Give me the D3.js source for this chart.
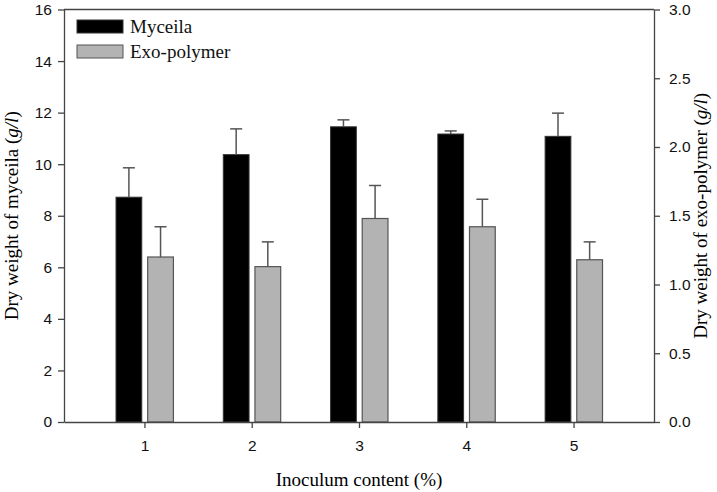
<!DOCTYPE html>
<html>
<head>
<meta charset="utf-8">
<script src="https://cdn.jsdelivr.net/npm/d3@7"></script>
<style>
  body { margin: 0; background: #fff; }
  svg { display: block; }
</style>
</head>
<body>
<div id="graph"></div>
<script>
/* data */
const categories = [1, 2, 3, 4, 5];
const myceila = [8.72, 10.37, 11.45, 11.17, 11.08];
const myceilaErr = [1.14, 1.00, 0.27, 0.12, 0.90];
const exoPolymer = [1.20, 1.13, 1.48, 1.42, 1.18];
const exoPolymerErr = [0.22, 0.18, 0.24, 0.20, 0.13];
const leftTicks = [0, 2, 4, 6, 8, 10, 12, 14, 16];
const rightTicks = [0, 0.5, 1.0, 1.5, 2.0, 2.5, 3.0];

window.addEventListener("DOMContentLoaded", main)

function main() {
    const W = 717, H = 492;
    const L = 64, R = 654, T = 9.5, B = 422;
    const axisCol = "#444";
    const sans = "'Liberation Sans', Arial, sans-serif";
    const serif = "'Liberation Serif', 'Times New Roman', serif";

    const svg = d3.select("#graph").append("svg").attr("width", W).attr("height", H)

    const x = d3.scaleLinear().domain([0.25, 5.75]).range([L, R]);
    const yL = d3.scaleLinear().domain([0, 16]).range([B, T]);
    const yR = d3.scaleLinear().domain([0, 3]).range([B, T]);
    const bw = 0.24;

    // top frame line
    svg.append("line").attr("x1", L).attr("x2", R).attr("y1", T).attr("y2", T)
        .attr("stroke", axisCol).attr("stroke-width", 1.3);

    // bars: myceila (left axis)
    const ebCol = "#555";
    const g1 = svg.append("g");
    g1.selectAll("rect").data(myceila).enter().append("rect")
        .attr("x", (d, i) => x(categories[i] - 0.145 - bw / 2))
        .attr("width", x(bw) - x(0))
        .attr("y", d => yL(d))
        .attr("height", d => yL(0) - yL(d))
        .attr("fill", "#000").attr("stroke", "#333").attr("stroke-width", 1);
    // error bars
    myceila.forEach((d, i) => {
        const cx = x(categories[i] - 0.145);
        svg.append("line").attr("x1", cx).attr("x2", cx)
            .attr("y1", yL(d)).attr("y2", yL(d + myceilaErr[i]))
            .attr("stroke", ebCol).attr("stroke-width", 1.5);
        svg.append("line").attr("x1", cx - 6).attr("x2", cx + 6)
            .attr("y1", yL(d + myceilaErr[i])).attr("y2", yL(d + myceilaErr[i]))
            .attr("stroke", ebCol).attr("stroke-width", 1.5);
    });

    // bars: exo-polymer (right axis)
    const g2 = svg.append("g");
    g2.selectAll("rect").data(exoPolymer).enter().append("rect")
        .attr("x", (d, i) => x(categories[i] + 0.15 - bw / 2))
        .attr("width", x(bw) - x(0))
        .attr("y", d => yR(d))
        .attr("height", d => yR(0) - yR(d))
        .attr("fill", "#b3b3b3").attr("stroke", "#555").attr("stroke-width", 1.2);
    exoPolymer.forEach((d, i) => {
        const cx = x(categories[i] + 0.15);
        svg.append("line").attr("x1", cx).attr("x2", cx)
            .attr("y1", yR(d)).attr("y2", yR(d + exoPolymerErr[i]))
            .attr("stroke", ebCol).attr("stroke-width", 1.5);
        svg.append("line").attr("x1", cx - 6).attr("x2", cx + 6)
            .attr("y1", yR(d + exoPolymerErr[i])).attr("y2", yR(d + exoPolymerErr[i]))
            .attr("stroke", ebCol).attr("stroke-width", 1.5);
    });

    /* axes */
    const xAxis = svg.append("g").attr("transform", "translate(0," + B + ")")
        .call(d3.axisBottom(x).tickValues(categories).tickFormat(d3.format("d")).tickSize(6).tickSizeOuter(0).tickPadding(12));
    const yAxisL = svg.append("g").attr("transform", "translate(" + L + ",0)")
        .call(d3.axisLeft(yL).tickValues(leftTicks).tickFormat(d3.format("d")).tickSize(6).tickSizeOuter(0).tickPadding(6));
    const yAxisR = svg.append("g").attr("transform", "translate(" + R + ",0)")
        .call(d3.axisRight(yR).tickValues(rightTicks).tickFormat(d3.format(".1f")).tickSize(6).tickSizeOuter(0).tickPadding(9));

    [xAxis, yAxisL, yAxisR].forEach(a => {
        a.selectAll("path, line").attr("stroke", axisCol).attr("stroke-width", 1.3);
        a.selectAll("text").attr("font-family", sans).attr("font-size", 15.5).attr("fill", "#111");
    });

    /* axis titles */
    svg.append("text").attr("x", (L + R) / 2).attr("y", 486)
        .attr("text-anchor", "middle").attr("font-family", serif).attr("font-size", 19)
        .text("Inoculum content (%)");

    const tl = svg.append("text").attr("transform", "translate(18," + ((T + B) / 2) + ") rotate(-90)")
        .attr("text-anchor", "middle").attr("font-family", serif).attr("font-size", 19);
    tl.append("tspan").text("Dry weight of myceila (");
    tl.append("tspan").attr("font-style", "italic").text("g/l");
    tl.append("tspan").text(")");

    const tr = svg.append("text").attr("transform", "translate(707," + ((T + B) / 2) + ") rotate(-90)")
        .attr("text-anchor", "middle").attr("font-family", serif).attr("font-size", 19);
    tr.append("tspan").text("Dry weight of exo-polymer (");
    tr.append("tspan").attr("font-style", "italic").text("g/l");
    tr.append("tspan").text(")");

    /* legend */
    const legend = [["Myceila", "#000", "#333"], ["Exo-polymer", "#b3b3b3", "#555"]];
    legend.forEach((l, i) => {
        svg.append("rect").attr("x", 77).attr("y", 20 + i * 25).attr("width", 46).attr("height", 13)
            .attr("fill", l[1]).attr("stroke", l[2]).attr("stroke-width", 1);
        svg.append("text").attr("x", 130).attr("y", 33 + i * 25)
            .attr("font-family", serif).attr("font-size", 19).attr("fill", "#111").text(l[0]);
    });
}
</script>
</body>
</html>
